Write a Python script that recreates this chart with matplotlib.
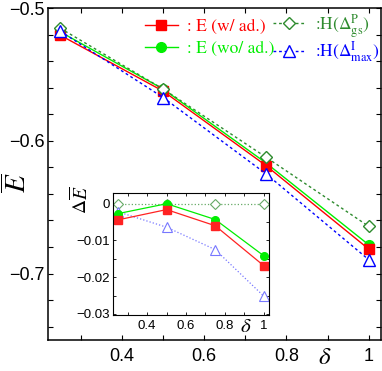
import matplotlib
matplotlib.use("Agg")
import matplotlib.pyplot as plt
from matplotlib.ticker import MultipleLocator

# delta values and energies (main panel)
delta = [0.25, 0.5, 0.75, 1.0]
E_ad = [-0.5205, -0.5626, -0.6186, -0.6815]
E_woad = [-0.5180, -0.5610, -0.6166, -0.6783]
H_gs = [-0.5153, -0.5610, -0.6123, -0.6644]
H_max = [-0.5175, -0.5674, -0.6248, -0.6895]

# differences (inset)
dE_ad = [-0.0044, -0.0016, -0.0060, -0.0169]
dE_woad = [-0.0027, 0.0000, -0.0043, -0.0142]
dE_gs = [0.0, 0.0, 0.0, 0.0]
dE_max = [-0.0022, -0.0064, -0.0125, -0.0252]

labels = [": E (w/ ad.)", ": E (wo/ ad.)",
          r":H($\Delta^{\rm P}_{\rm gs}$)", r":H($\Delta^{\rm I}_{\rm max}$)"]

plt.rcParams['font.family'] = ['Liberation Sans', 'DejaVu Sans']
plt.rcParams['mathtext.fontset'] = 'stix'
plt.rcParams['axes.linewidth'] = 1.1
for a in ['xtick', 'ytick']:
    plt.rcParams[a + '.direction'] = 'in'
    plt.rcParams[a + '.major.size'] = 3.5
    plt.rcParams[a + '.minor.size'] = 3.5
    plt.rcParams[a + '.major.width'] = 0.8
    plt.rcParams[a + '.minor.width'] = 0.8
plt.rcParams['xtick.top'] = True
plt.rcParams['ytick.right'] = True

fig = plt.figure(figsize=(3.82, 3.71), dpi=100)
ax = fig.add_axes([0.1257, 0.0836, 0.8717, 0.8948])

l2, = ax.plot(delta, E_woad, '-', color='#00ee00', lw=1.0, marker='o', ms=7, label=labels[1])
l1, = ax.plot(delta, E_ad, '-', color='#ff0000', lw=1.0, marker='s', ms=7, label=labels[0])
l3, = ax.plot(delta, H_gs, '--', dashes=(2, 2), color='#2e8b2e', lw=1.0, marker='D', ms=6.5,
              mfc='white', mew=1.0, label=labels[2])
l4, = ax.plot(delta, H_max, '--', dashes=(2, 2), color='#0000ff', lw=1.0, marker='^', ms=8,
              mfc='white', mew=1.0, label=labels[3])

ax.set_xlim(0.22, 1.03)
ax.set_ylim(-0.75, -0.5)
ax.set_xticks([0.4, 0.6, 0.8, 1.0], ["0.4", "0.6", "0.8", "1"])
ax.set_xticks([0.3, 0.5, 0.7, 0.9], minor=True)
ax.set_yticks([-0.7, -0.6, -0.5], ["\u22120.7", "\u22120.6", "\u22120.5"])
ax.yaxis.set_minor_locator(MultipleLocator(0.02))
ax.tick_params(axis='x', which='both', labelsize=13, pad=6)
ax.tick_params(axis='y', which='both', labelsize=13, pad=2.5)

# two legend columns placed separately so rows line up
leg_kw = dict(frameon=False, loc='center left', borderaxespad=0, borderpad=0,
              handlelength=1.9, handletextpad=0.5, numpoints=1,
              labelcolor='linecolor', bbox_transform=fig.transFigure,
              prop={'family': 'STIXGeneral', 'size': 12.5})
leg1 = ax.legend(handles=[l1, l2], bbox_to_anchor=(145 / 382, 1 - 38 / 371),
                 labelspacing=0.35, **leg_kw)
ax.add_artist(leg1)
ax.legend(handles=[l3, l4], bbox_to_anchor=(273 / 382, 1 - 38 / 371),
          labelspacing=0.0, **leg_kw)

fig.text(18 / 382, 1 - 183 / 371, r'$\overline{E}$', rotation=90, fontsize=21,
         ha='center', va='center')
fig.text(325 / 382, 1 - 357 / 371, r'$\delta$', fontsize=18, ha='center', va='center')

# inset
ax2 = fig.add_axes([0.296, 0.151, 0.408, 0.3296])
ax2.set_facecolor('white')
ax2.plot(delta, dE_gs, ':', color='#66aa66', lw=0.9, marker='D', ms=5, mfc='white', mew=0.8)
ax2.plot(delta, dE_max, ':', color='#7777ff', lw=0.9, marker='^', ms=6.5, mfc='white', mew=0.8)
ax2.plot(delta, dE_woad, '-', color='#00ee00', lw=0.9, marker='o', ms=5.5)
ax2.plot(delta, dE_ad, '-', color='#ff2222', lw=0.9, marker='s', ms=5.5)
ax2.set_xlim(0.225, 1.026)
ax2.set_ylim(-0.0303, 0.003)
ax2.set_xticks([0.4, 0.6, 0.8, 1.0], ["0.4", "0.6", "0.8", "1"])
ax2.set_xticks([0.3, 0.5, 0.7, 0.9], minor=True)
ax2.set_yticks([0, -0.01, -0.02, -0.03], ["0", "\u22120.01", "\u22120.02", "\u22120.03"])
ax2.yaxis.set_minor_locator(MultipleLocator(0.005))
for s in ax2.spines.values():
    s.set_linewidth(0.8)
ax2.tick_params(which='both', length=2.5, width=0.6)
ax2.tick_params(axis='x', which='both', labelsize=9.5, pad=3.5)
ax2.tick_params(axis='y', which='both', labelsize=9.5, pad=2.5)

fig.text(80 / 382, 1 - 200 / 371, r'$\Delta\overline{E}$', rotation=90, fontsize=14,
         ha='center', va='center')
fig.text(246 / 382, 1 - 327 / 371, r'$\delta$', fontsize=15, ha='center', va='center')

fig.savefig("out.png", dpi=100)
